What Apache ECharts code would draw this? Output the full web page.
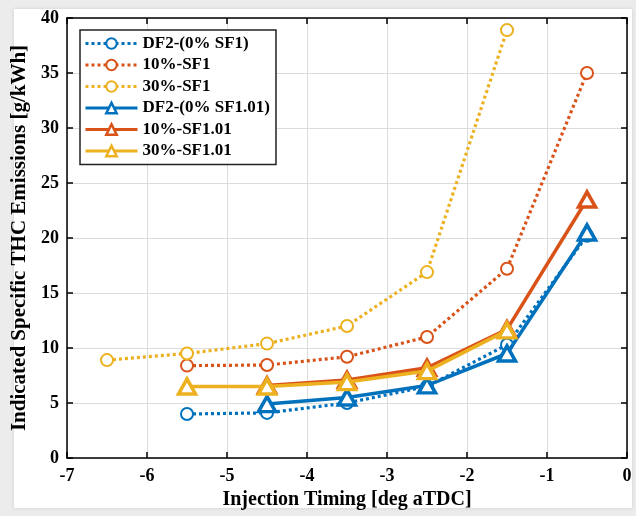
<!DOCTYPE html>
<html>
<head>
<meta charset="utf-8">
<script src="https://cdn.jsdelivr.net/npm/echarts@6/dist/echarts.min.js"></script>
<style>
html,body{margin:0;padding:0;background:#ececec;}
#frame{position:absolute;left:14px;top:9px;width:618px;height:499px;background:#fff;box-shadow:0 0 4px rgba(0,0,0,0.12);}
#chart{position:absolute;left:0;top:0;width:636px;height:516px;}
</style>
</head>
<body>
<div id="frame"></div>
<div id="chart"></div>
<script>
const xTiming = [-6.5, -5.5, -4.5, -3.5, -2.5, -1.5, -0.5];
const seriesNames = ['DF2-(0% SF1)', '10%-SF1', '30%-SF1', 'DF2-(0% SF1.01)', '10%-SF1.01', '30%-SF1.01'];
const df2_SF1    = [null, 4.0, 4.1, 5.0, 6.5, 10.3, 20.2];
const sf10_SF1   = [null, 8.4, 8.45, 9.2, 11.0, 17.2, 35.0];
const sf30_SF1   = [8.9, 9.5, 10.4, 12.0, 16.9, 38.9, null];
const df2_SF101  = [null, null, 4.9, 5.5, 6.6, 9.5, 20.5];
const sf10_SF101 = [null, null, 6.6, 7.1, 8.2, 11.7, 23.5];
const sf30_SF101 = [null, 6.5, 6.5, 6.9, 7.9, 11.6, null];
const xTicks = [-7, -6, -5, -4, -3, -2, -1, 0];
const yTicks = [0, 5, 10, 15, 20, 25, 30, 35, 40];

const BLUE = '#0072BD', ORANGE = '#D95319', YELLOW = '#EDB120';
const FONT = 'Liberation Serif';

function pairs(vals){ return xTiming.map((x,i)=>[x, vals[i]]).filter(p=>p[1]!==null); }

function dotted(name, vals, color){
  return {name, type:'line', data:pairs(vals), symbol:'emptyCircle', symbolSize:12, showAllSymbol:true,
    lineStyle:{color, width:3.2, type:[3,3]}, itemStyle:{color:color, borderColor:color, borderWidth:3},
    emphasis:{disabled:true}, z:2};
}
function solid(name, vals, color, z){
  return {name, type:'line', data:pairs(vals), symbol:'triangle', symbolSize:[17,15], showAllSymbol:true,
    lineStyle:{color, width:3.5, type:'solid'}, itemStyle:{color:'#fff', borderColor:color, borderWidth:3.5},
    emphasis:{disabled:true}, z};
}

const chart = echarts.init(document.getElementById('chart'), null, {renderer:'canvas'});
const axisCommon = {
  axisLine:{show:true, onZero:false, lineStyle:{color:'#000', width:1.5}},
  axisTick:{show:true, inside:true, length:6, lineStyle:{color:'#000', width:1.5}},
};
chart.setOption({
  backgroundColor:'transparent',
  animation:false,
  grid:{left:67, top:18, right:9, bottom:58, show:false},
  legend:{
    orient:'vertical', left:80, top:30, itemWidth:52, itemHeight:13, itemGap:4.5,
    padding:[5,6,5,4], backgroundColor:'#fff', borderColor:'#222', borderWidth:1.5,
    lineStyle:{width:3},
    itemStyle:{borderWidth:2.5},
    textStyle:{fontFamily:FONT, fontWeight:'bold', fontSize:17, color:'#000'},
    data:seriesNames
  },
  xAxis:[
    Object.assign({type:'value', min:-7, max:0, interval:1, position:'bottom',
      axisLabel:{color:'#000', fontFamily:FONT, fontWeight:'bold', fontSize:18, margin:9},
      splitLine:{show:true, lineStyle:{color:'#dcdcdc', width:1}},
      name:'Injection Timing [deg aTDC]', nameLocation:'middle', nameGap:31,
      nameTextStyle:{color:'#000', fontFamily:FONT, fontWeight:'bold', fontSize:20}}, axisCommon),
    Object.assign({type:'value', min:-7, max:0, interval:1, position:'top',
      axisLabel:{show:false}, splitLine:{show:false}}, axisCommon)
  ],
  yAxis:[
    Object.assign({type:'value', min:0, max:40, interval:5, position:'left',
      axisLabel:{color:'#000', fontFamily:FONT, fontWeight:'bold', fontSize:18, margin:8},
      splitLine:{show:true, lineStyle:{color:'#dcdcdc', width:1}},
      name:'Indicated Specific THC Emissions [g/kWh]', nameLocation:'middle', nameGap:33,
      nameTextStyle:{color:'#000', fontFamily:FONT, fontWeight:'bold', fontSize:21}}, axisCommon),
    Object.assign({type:'value', min:0, max:40, interval:5, position:'right',
      axisLabel:{show:false}, splitLine:{show:false}}, axisCommon)
  ],
  series:[
    dotted(seriesNames[0], df2_SF1, BLUE),
    dotted(seriesNames[1], sf10_SF1, ORANGE),
    dotted(seriesNames[2], sf30_SF1, YELLOW),
    solid(seriesNames[3], df2_SF101, BLUE, 3),
    solid(seriesNames[4], sf10_SF101, ORANGE, 4),
    solid(seriesNames[5], sf30_SF101, YELLOW, 5)
  ]
});
</script>
</body>
</html>
